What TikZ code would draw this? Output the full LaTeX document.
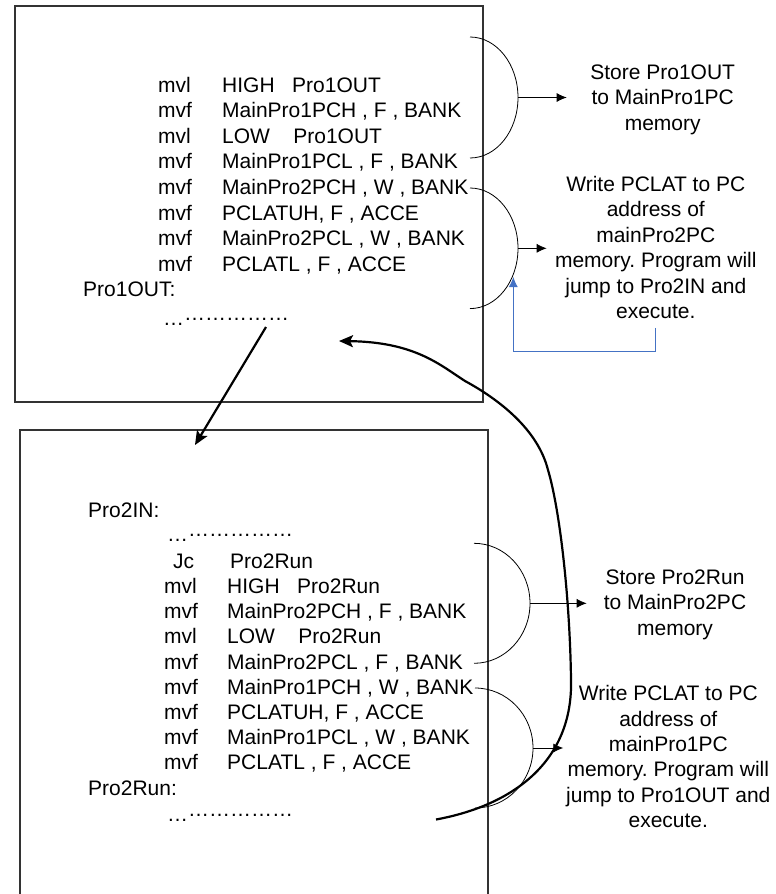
\documentclass[tikz,border=0pt]{standalone}
\usepackage{fontspec}
\setmainfont{Liberation Sans}
\usetikzlibrary{arrows.meta}
\definecolor{linkblue}{RGB}{68,114,196}
\frenchspacing

\newcommand{\dotrow}{…\raisebox{5pt}{……………}}

\tikzset{
  code/.style={anchor=base west, inner sep=0pt, font=\fontsize{21}{25.4}\selectfont},
  note/.style={anchor=base, align=center, inner sep=0pt, font=\fontsize{21}{25.4}\selectfont},
  box/.style={draw=black!80, line width=1.2pt},
  brace/.style={line width=0.8pt},
  tip/.style={line width=0.8pt, -{Latex[length=10pt,width=9pt]}},
  jump/.style={line width=2.2pt, -{Stealth[length=14pt,width=12pt,inset=3pt]}},
  feedback/.style={draw=linkblue, line width=0.8pt, -{Latex[length=10pt,width=9pt]}},
}

\begin{document}
\begin{tikzpicture}[x=1pt, y=-1pt]
  \useasboundingbox (0,0) rectangle (776,894);
  % Boxes
  \draw[box] (15,6) rectangle (483,402);
  \draw[box] (20,894) |- (488,430) -- (488,894);
  % Pro1 code
  \foreach \op/\arg [count=\i] in {mvl/{HIGH~~~Pro1OUT}, mvf/{MainPro1PCH , F , BANK},
      mvl/{LOW~~~~Pro1OUT}, mvf/{MainPro1PCL , F , BANK}, mvf/{MainPro2PCH , W , BANK},
      mvf/{PCLATUH, F , ACCE}, mvf/{MainPro2PCL , W , BANK}, mvf/{PCLATL , F , ACCE}}{
    \node[code] (aop\i) at (158,{92+25.6*(\i-1)}) {\op};
    \node[code] (aarg\i) at (222,{92+25.6*(\i-1)}) {\arg};
  }
  \node[code] (alabel) at (83,296.8) {Pro1OUT:};
  \node[code] (adots) at (163,325) {\dotrow};
  % Pro2 code
  \node[code] (blabel) at (88,517) {Pro2IN:};
  \node[code] (bdots) at (167,541) {\dotrow};
  \node[code] (bjc) at (173,568.5) {Jc};
  \node[code] (bjcarg) at (230,568.5) {Pro2Run};
  \foreach \op/\arg [count=\i] in {mvl/{HIGH~~~Pro2Run}, mvf/{MainPro2PCH , F , BANK},
      mvl/{LOW~~~~Pro2Run}, mvf/{MainPro2PCL , F , BANK}, mvf/{MainPro1PCH , W , BANK},
      mvf/{PCLATUH, F , ACCE}, mvf/{MainPro1PCL , W , BANK}, mvf/{PCLATL , F , ACCE}}{
    \node[code] (bop\i) at (164,{593.5+25.2*(\i-1)}) {\op};
    \node[code] (barg\i) at (227,{593.5+25.2*(\i-1)}) {\arg};
  }
  \node[code] (brun) at (88,795.3) {Pro2Run:};
  \node[code] (bdots2) at (167,821) {\dotrow};
  % Notes (base = last line)
  \node[note] (store1) at (662.7,130) {Store Pro1OUT\\to MainPro1PC\\memory};
  \node[note] (write1) at (655.8,318.5) {Write PCLAT to PC\\address of\\mainPro2PC\\memory. Program will\\jump to Pro2IN and\\execute.};
  \node[note] (store2) at (675,635.3) {Store Pro2Run\\to MainPro2PC\\memory};
  \node[note] (write2) at (668.3,827.7) {Write PCLAT to PC\\address of\\mainPro1PC\\memory. Program will\\jump to Pro1OUT and\\execute.};
  % Braces
  \draw[brace] (470,37) arc[start angle=-90, end angle=90, x radius=48, y radius=60.5];
  \draw[brace] (470,188) arc[start angle=-90, end angle=90, x radius=48, y radius=60.3];
  \draw[brace] (474,543.3) arc[start angle=-90, end angle=90, x radius=56, y radius=60];
  \draw[brace] (475,688) arc[start angle=-90, end angle=90, x radius=58, y radius=60];
  \coordinate (m1) at (518,97.5);
  \coordinate (m2) at (518,248.3);
  \coordinate (m3) at (530,603.3);
  \coordinate (m4) at (533,748);
  \draw[tip] (m1) -- ++(48.7,0);
  \draw[tip] (m2) -- ++(28.7,0);
  \draw[tip] (m3) -- ++(56.7,0);
  \draw[tip] (m4) -- ++(30.3,0);
  % Blue return line
  \coordinate (hit) at (513.3,277);
  \draw[feedback] ([yshift=-9pt]write1.south) -- ++(0,23) -| (hit);
  % Jumps
  \coordinate (out1) at (266,327);
  \coordinate (in2) at (195,445);
  \draw[jump] (out1) -- (in2);
  \coordinate (out2) at (436,819.5);
  \coordinate (in1) at (339,341);
  \draw[jump] (out2) .. controls (515,805) and (573,760) .. (571,680)
    .. controls (570,600) and (560,510) .. (548,470)
    .. controls (538,430) and (500,400) .. (465,381)
    .. controls (440,365) and (415,342) .. (in1);
\end{tikzpicture}
\end{document}
